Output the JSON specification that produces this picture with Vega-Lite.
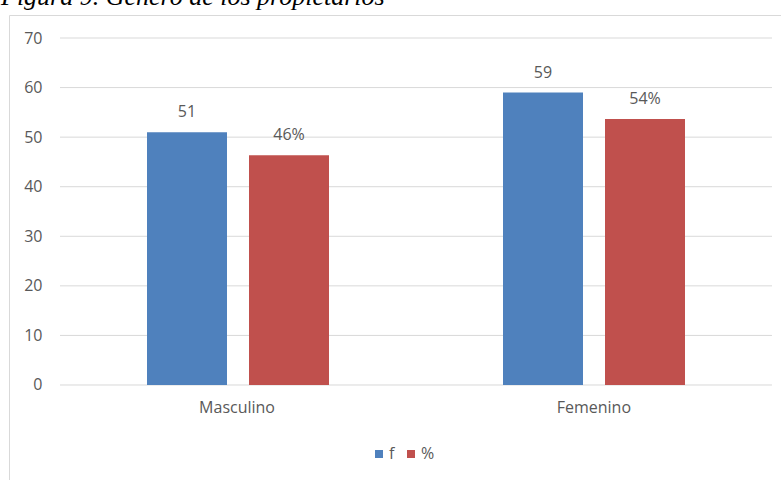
{
  "$schema": "https://vega.github.io/schema/vega-lite/v6.json",
  "width": 772,
  "height": 465,
  "autosize": {"type": "none"},
  "padding": {"left": 9, "top": 15, "right": 0, "bottom": 0},
  "title": {
    "text": "Figura 9. Género de los propietarios",
    "anchor": "start",
    "frame": "group",
    "font": "Liberation Serif",
    "fontSize": 26,
    "fontStyle": "italic",
    "fontWeight": "normal",
    "color": "#000000",
    "baseline": "alphabetic",
    "offset": 3,
    "dx": -8,
    "dy": 19
  },
  "config": {
    "view": {"stroke": "#d9d9d9", "strokeWidth": 1},
    "font": "Open Sans"
  },
  "data": {
    "values": [
      {"genero": "Masculino", "serie": "f", "valor": 51, "etiqueta": "51"},
      {"genero": "Masculino", "serie": "%", "valor": 46.36, "etiqueta": "46%"},
      {"genero": "Femenino", "serie": "f", "valor": 59, "etiqueta": "59"},
      {"genero": "Femenino", "serie": "%", "valor": 53.64, "etiqueta": "54%"}
    ]
  },
  "layer": [
    {
      "data": {"values": [{"v": 0}, {"v": 10}, {"v": 20}, {"v": 30}, {"v": 40}, {"v": 50}, {"v": 60}, {"v": 70}]},
      "mark": {"type": "rule", "color": "#d9d9d9", "strokeWidth": 1},
      "encoding": {
        "y": {"field": "v", "type": "quantitative", "title": null},
        "x": {"datum": "Masculino", "type": "nominal", "bandPosition": 0},
        "x2": {"datum": "Femenino", "bandPosition": 1}
      }
    },
    {
      "mark": {"type": "bar"},
      "encoding": {
        "x": {
          "field": "genero",
          "type": "nominal",
          "title": null,
          "scale": {"domain": ["Masculino", "Femenino"], "paddingInner": 0, "paddingOuter": 0.08427, "align": 0.85, "round": false},
          "axis": {"orient": "bottom", "offset": -95, "domain": false, "ticks": false, "grid": false, "labelPadding": 22, "labelOffset": 37, "labelAngle": 0, "labelFont": "Open Sans", "labelFontSize": 16, "labelColor": "#595959", "title": null}
        },
        "xOffset": {
          "field": "serie",
          "type": "nominal",
          "scale": {"domain": ["f", "%"], "paddingInner": 0.2157, "paddingOuter": 0.853, "round": false}
        },
        "y": {
          "field": "valor",
          "type": "quantitative",
          "title": null,
          "scale": {"domain": [-19.165, 74.64], "nice": false, "zero": false},
          "axis": {"orient": "left", "values": [0, 10, 20, 30, 40, 50, 60, 70], "grid": false, "ticks": false, "domain": false, "labelPadding": -33, "labelFont": "Open Sans", "labelFontSize": 16, "labelColor": "#595959", "title": null}
        },
        "y2": {"datum": 0},
        "color": {
          "field": "serie",
          "type": "nominal",
          "scale": {"domain": ["f", "%"], "range": ["#4F81BD", "#C0504D"]},
          "legend": {
            "orient": "none",
            "legendX": 362,
            "legendY": 431,
            "direction": "horizontal",
            "title": null,
            "symbolType": "square",
            "symbolSize": 64,
            "symbolStrokeWidth": 0,
            "labelFont": "Open Sans",
            "labelFontSize": 16,
            "labelColor": "#595959",
            "labelOffset": 2,
            "columnPadding": 8
          }
        }
      }
    },
    {
      "mark": {"type": "text", "baseline": "middle", "dy": -20, "font": "Open Sans", "fontSize": 16, "color": "#595959"},
      "encoding": {
        "x": {"field": "genero", "type": "nominal"},
        "xOffset": {"field": "serie", "type": "nominal"},
        "y": {"field": "valor", "type": "quantitative", "title": null},
        "text": {"field": "etiqueta"}
      }
    }
  ]
}
